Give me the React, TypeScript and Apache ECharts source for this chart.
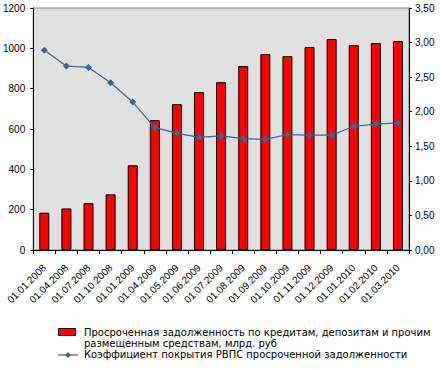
import React, { useEffect, useRef } from "react";
import * as echarts from "echarts";

const categories = [
  "01.01.2008", "01.04.2008", "01.07.2008", "01.10.2008", "01.01.2009",
  "01.04.2009", "01.05.2009", "01.06.2009", "01.07.2009", "01.08.2009",
  "01.09.2009", "01.10.2009", "01.11.2009", "01.12.2009", "01.01.2010",
  "01.02.2010", "01.03.2010",
];
const overdueDebt = [185, 206, 232, 276, 420, 644, 723, 783, 832, 912, 971, 961, 1006, 1046, 1016, 1026, 1036];
const coverageRatio = [2.89, 2.66, 2.64, 2.42, 2.14, 1.77, 1.69, 1.63, 1.65, 1.61, 1.6, 1.67, 1.66, 1.66, 1.79, 1.82, 1.84];
const barName = "Просроченная задолженность по кредитам, депозитам и прочим\nразмещенным средствам, млрд. руб";
const lineName = "Коэффициент покрытия РВПС просроченной задолженности";

const FONT = "Liberation Sans";
const LFONT = "DejaVu Sans";

export default function App() {
  const ref = useRef<HTMLDivElement>(null);
  useEffect(() => {
    if (!ref.current) return;
    const chart = echarts.init(ref.current, undefined, { renderer: "svg" });
    chart.setOption({
      animation: false,
      textStyle: { fontFamily: FONT },
      grid: {
        left: 31, right: 35, top: 8, bottom: 120,
        show: true, backgroundColor: "#e0e0e0", borderColor: "#808080", borderWidth: 1,
      },
      xAxis: {
        type: "category",
        data: categories,
        axisLine: { lineStyle: { color: "#000", width: 1 } },
        axisTick: { show: true, length: 4, lineStyle: { color: "#000" } },
        axisLabel: { rotate: 45, fontSize: 10, color: "#000", margin: 16, interval: 0, fontFamily: FONT },
        splitLine: { show: false },
      },
      yAxis: [
        {
          type: "value", min: 0, max: 1200, interval: 200,
          axisLine: { show: true, lineStyle: { color: "#000" } },
          axisTick: { show: true, length: 3, lineStyle: { color: "#000" } },
          axisLabel: { fontSize: 10, color: "#000", margin: 8, fontFamily: FONT, formatter: (v: number) => String(v) },
          splitLine: { show: false },
        },
        {
          type: "value", min: 0, max: 3.5, interval: 0.5, position: "right",
          axisLine: { show: true, lineStyle: { color: "#000" } },
          axisTick: { show: true, length: 3, lineStyle: { color: "#000" } },
          axisLabel: {
            fontSize: 10, color: "#000", margin: 6, fontFamily: FONT,
            formatter: (v: number) => v.toFixed(2).replace(".", ","),
          },
          splitLine: { show: false },
        },
      ],
      series: [
        {
          name: barName, type: "bar", data: overdueDebt, yAxisIndex: 0, barWidth: 10,
          itemStyle: { color: "#ff0000", borderColor: "#000", borderWidth: 1 },
        },
        {
          name: lineName, type: "line", data: coverageRatio, yAxisIndex: 1,
          symbol: "diamond", symbolSize: 7,
          lineStyle: { color: "#336699", width: 1.2 },
          itemStyle: { color: "#336699" },
        },
      ],
      graphic: [
        { type: "rect", left: 58, top: 328, shape: { width: 17, height: 7 }, style: { fill: "#ff0000", stroke: "#000", lineWidth: 1 } },
        {
          type: "text", left: 84, top: 327,
          style: { text: barName, font: `10px '${LFONT}'`, fill: "#000", lineHeight: 11 },
        },
        { type: "line", shape: { x1: 58, y1: 355, x2: 78, y2: 355 }, style: { stroke: "#336699", lineWidth: 1.2 } },
        { type: "polygon", shape: { points: [[68, 352], [71, 355], [68, 358], [65, 355]] }, style: { fill: "#336699" } },
        {
          type: "text", left: 84, top: 349,
          style: { text: lineName, font: `10px '${LFONT}'`, fill: "#000" },
        },
      ],
    });
    return () => chart.dispose();
  }, []);
  return <div ref={ref} style={{ position: "absolute", left: 0, top: 0, width: 444, height: 370, background: "#fff" }} />;
}
